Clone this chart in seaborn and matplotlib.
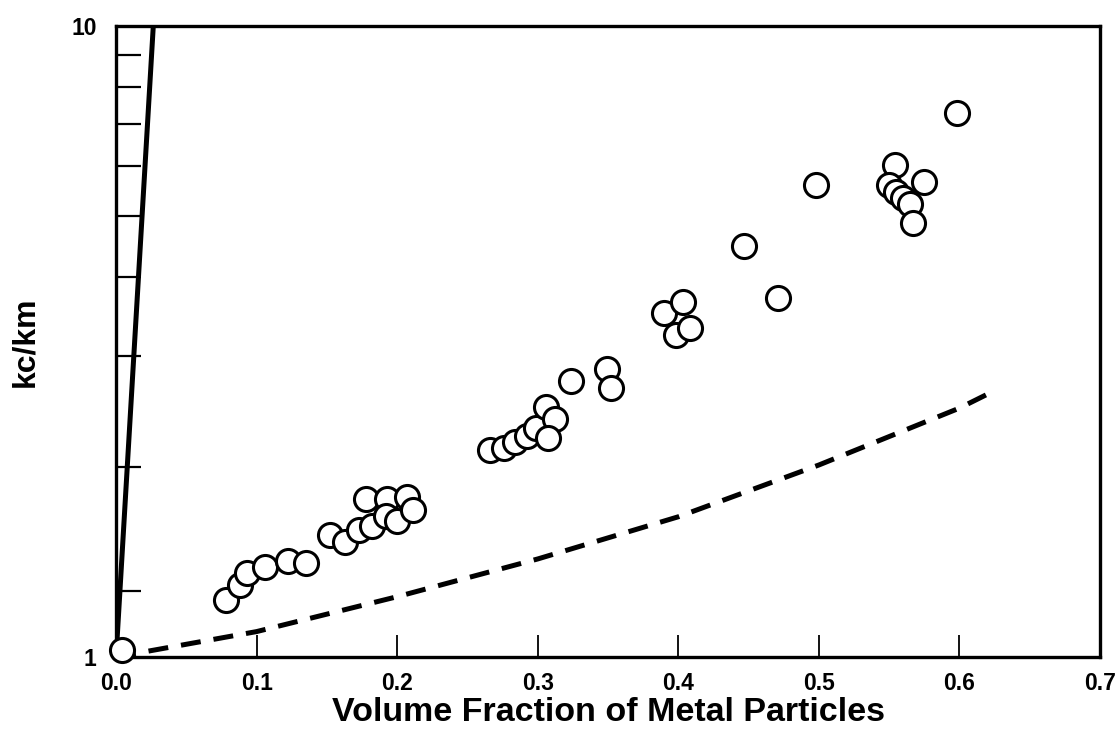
import numpy as np
import pandas as pd
import matplotlib
matplotlib.use("Agg")
import matplotlib.pyplot as plt
from matplotlib.ticker import FixedLocator, NullFormatter
import seaborn as sns

# measured points (volume fraction, kc/km)
frac = [0.004, 0.078, 0.088, 0.093, 0.106, 0.122, 0.135,
        0.152, 0.163, 0.173, 0.182, 0.178, 0.193, 0.207, 0.192, 0.200, 0.211,
        0.266, 0.276, 0.284, 0.292, 0.299, 0.306, 0.312, 0.307, 0.324,
        0.349, 0.352, 0.390, 0.403, 0.398, 0.408,
        0.447, 0.471, 0.498, 0.598,
        0.554, 0.550, 0.555, 0.560, 0.565, 0.567, 0.575]
ratio = [1.025, 1.23, 1.30, 1.36, 1.39, 1.42, 1.41,
         1.56, 1.52, 1.59, 1.61, 1.78, 1.78, 1.79, 1.67, 1.64, 1.71,
         2.13, 2.14, 2.19, 2.24, 2.31, 2.49, 2.38, 2.22, 2.74,
         2.86, 2.67, 3.51, 3.65, 3.24, 3.32,
         4.48, 3.71, 5.60, 7.28,
         6.02, 5.60, 5.46, 5.34, 5.22, 4.87, 5.66]

# steep solid line
solid_x = [0.0, 0.0265]
solid_y = [1.0, 10.0]

# dashed curve
dash_x = [0.0, 0.1, 0.2, 0.3, 0.4, 0.5, 0.6, 0.623]
dash_y = [1.0, 1.097, 1.246, 1.43, 1.668, 2.015, 2.48, 2.63]

xticks = [0.0, 0.1, 0.2, 0.3, 0.4, 0.5, 0.6, 0.7]
xticklabels = ["0.0", "0.1", "0.2", "0.3", "0.4", "0.5", "0.6", "0.7"]
yminor = [1.27, 2, 3, 4, 5, 6, 7, 8, 9]

sns.set_style("ticks")
plt.rcParams['font.family'] = ['Liberation Sans', 'DejaVu Sans']
plt.rcParams['font.weight'] = 'bold'
plt.rcParams['text.color'] = 'black'
plt.rcParams['axes.labelcolor'] = 'black'

fig = plt.figure(figsize=(11.2, 7.44), dpi=100)
ax = fig.add_axes([0.1036, 0.117, 0.8786, 0.848])

sns.lineplot(x=solid_x, y=solid_y, ax=ax, color="black", linewidth=3.6, zorder=2)
sns.lineplot(x=dash_x, y=dash_y, ax=ax, color="black", linewidth=3.6,
             linestyle=(0, (4, 2.6)), zorder=2)
sns.scatterplot(x=frac, y=ratio, ax=ax, marker="o", s=300, facecolor="white",
                edgecolor="black", linewidth=2.2, zorder=3, clip_on=False)

ax.set_yscale("log")
ax.set_xlim(0, 0.7)
ax.set_ylim(1, 10)

ax.set_xticks(xticks)
ax.set_xticklabels(xticklabels, fontsize=16.5, fontweight="bold")
ax.set_yticks([1, 10])
ax.set_yticklabels(["1", "10"], fontsize=16.5, fontweight="bold")
ax.yaxis.set_minor_locator(FixedLocator(yminor))
ax.yaxis.set_minor_formatter(NullFormatter())
ax.xaxis.set_minor_locator(FixedLocator([]))

ax.tick_params(axis="x", which="major", direction="in", length=16, width=1.3,
               pad=11, colors="black")
ax.tick_params(axis="y", which="major", direction="in", length=0, pad=14,
               colors="black")
ax.tick_params(axis="y", which="minor", direction="in", length=18, width=1.6,
               colors="black")

for side in ["left", "right", "top", "bottom"]:
    ax.spines[side].set_visible(True)
    ax.spines[side].set_linewidth(2.4)
    ax.spines[side].set_color("black")

ax.set_xlabel("Volume Fraction of Metal Particles", fontsize=24.5, fontweight="bold",
              labelpad=1, color="black")
ax.set_ylabel("kc/km", fontsize=23, fontweight="bold", color="black")
ax.yaxis.set_label_coords(-0.077, 0.5)

fig.savefig("out.png", dpi=100)
